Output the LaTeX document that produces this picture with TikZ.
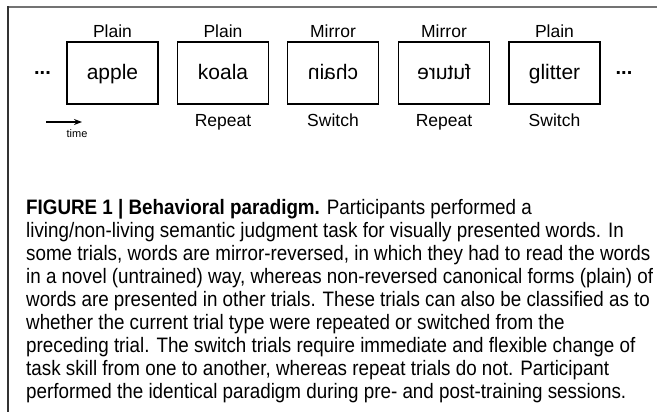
\documentclass[tikz,border=0pt]{standalone}
\usepackage{fontspec}
\usepackage{graphicx}
\setmainfont{Liberation Sans}
\newfontfamily\capfont[FakeStretch=0.9]{Liberation Sans}
\usetikzlibrary{arrows.meta}
\begin{document}
\begin{tikzpicture}[x=1pt,y=-1pt,
  trial/.style={draw=black,line width=1.6pt,minimum width=91pt,minimum height=62pt,inner sep=0pt,text height=17pt,text depth=4pt,font=\fontsize{21}{24}\selectfont},
  lab/.style={anchor=base,inner sep=0pt,font=\fontsize{17.5}{20}\selectfont},
  capline/.style={anchor=base west,inner sep=0pt,font=\capfont\fontsize{20.9}{24}\selectfont}]
\useasboundingbox (0,0) rectangle (657,412);
\draw[line width=2pt,color=black!55] (8,7.5) -- (657,7.5);
\draw[line width=1.2pt,color=black!80] (8,6.5) -- (8,412);
% trials
\node[trial] (t1) at (112.5,73) {apple};
\node[trial] (t2) at (223,73) {koala};
\node[trial] (t3) at (333,73) {\reflectbox{chain}};
\node[trial] (t4) at (444,73) {\reflectbox{future}};
\node[trial] (t5) at (554.5,73) {glitter};
\node[lab] (p1) at (112.5,37.5) {Plain};
\node[lab] (p2) at (223,37.5) {Plain};
\node[lab] (p3) at (333,37.5) {Mirror};
\node[lab] (p4) at (444,37.5) {Mirror};
\node[lab] (p5) at (554.5,37.5) {Plain};
\node[lab] (r2) at (223,126.5) {Repeat};
\node[lab] (r3) at (333,126.5) {Switch};
\node[lab] (r4) at (444,126.5) {Repeat};
\node[lab] (r5) at (554.5,126.5) {Switch};
\node[lab,font=\fontsize{20}{22}\selectfont\bfseries] (dl) at (42.5,75) {...};
\node[lab,font=\fontsize{20}{22}\selectfont\bfseries] (dr) at (624,75) {...};
\coordinate (a0) at (46,122);
\coordinate (a1) at (82,122);
\draw[line width=1.5pt,-{Stealth[length=8pt,width=6pt]}] (a0) -- (a1);
\node[lab,font=\fontsize{11}{12}\selectfont] (tm) at (77,137.5) {time};
% caption
\node[capline] (c1) at (26,214) {\textbf{FIGURE 1 | Behavioral paradigm.} Participants performed a};
\node[capline] (c2) at (26,237) {living/non-living semantic judgment task for visually presented words. In};
\node[capline] (c3) at (26,260) {some trials, words are mirror-reversed, in which they had to read the words};
\node[capline] (c4) at (26,283) {in a novel (untrained) way, whereas non-reversed canonical forms (plain) of};
\node[capline] (c5) at (26,306) {words are presented in other trials. These trials can also be classified as to};
\node[capline] (c6) at (26,329) {whether the current trial type were repeated or switched from the};
\node[capline] (c7) at (26,352) {preceding trial. The switch trials require immediate and flexible change of};
\node[capline] (c8) at (26,375) {task skill from one to another, whereas repeat trials do not. Participant};
\node[capline] (c9) at (26,398) {performed the identical paradigm during pre- and post-training sessions.};
\end{tikzpicture}
\end{document}
